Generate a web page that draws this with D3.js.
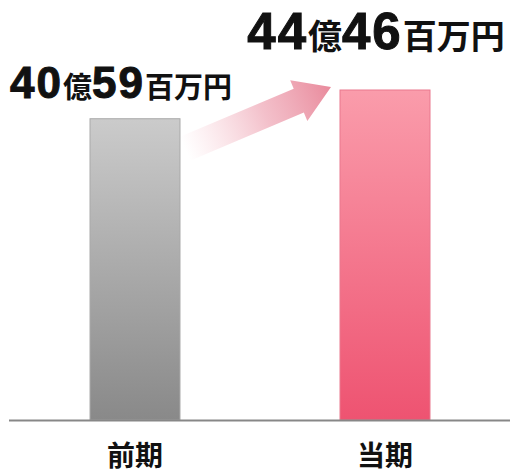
<!DOCTYPE html>
<html>
<head>
<meta charset="utf-8">
<script src="https://cdn.jsdelivr.net/npm/d3@7"></script>
<style>
  html, body { margin: 0; padding: 0; background: #fff; }
  svg { display: block; }
</style>
</head>
<body>
<script>
// values in 百万円
var periods = ['前期', '当期']
var values = [4059, 4446]
var valueOku = ['40', '44']
var valueMan = ['59', '46']

var width = 510
var height = 474
var baseY = 420

var svg = d3.select('body').append('svg')
    .attr('width', width)
    .attr('height', height)

var defs = svg.append('defs')

var x = d3.scaleBand()
    .domain(periods)
    .range([10, 510])
    .paddingInner(0.64)
    .paddingOuter(0.32)

var y = d3.scaleLinear()
    .domain([0, 4446])
    .range([baseY, 90])

var grads = [
    { id: 'gGray', top: '#cbcbcb', bottom: '#898989', stroke: '#a9a9a9' },
    { id: 'gPink', top: '#fa9cab', bottom: '#ee5371', stroke: '#e9788e' }
]

grads.forEach(function(g) {
    var lg = defs.append('linearGradient')
        .attr('id', g.id)
        .attr('x1', 0).attr('y1', 0)
        .attr('x2', 0).attr('y2', 1)
    lg.append('stop').attr('offset', '0%').attr('stop-color', g.top)
    lg.append('stop').attr('offset', '100%').attr('stop-color', g.bottom)
})

// bars
svg.selectAll('rect.bar')
    .data(periods)
    .enter().append('rect')
    .attr('class', 'bar')
    .attr('x', (d) => x(d))
    .attr('y', (d, i) => y(values[i]))
    .attr('width', x.bandwidth())
    .attr('height', (d, i) => baseY - y(values[i]))
    .attr('fill', (d, i) => 'url(#' + grads[i].id + ')')
    .attr('stroke', (d, i) => grads[i].stroke)
    .attr('stroke-width', 1)

// baseline
svg.append('line')
    .attr('x1', 9).attr('x2', width)
    .attr('y1', baseY + 0.5).attr('y2', baseY + 0.5)
    .attr('stroke', '#878787')
    .attr('stroke-width', 2)

// arrow between bars
var start = [x(periods[0]) + x.bandwidth() + 5, y(values[0]) + 30]
var end = [x(periods[1]) - 9, y(values[1]) - 3]
var dx = end[0] - start[0]
var dy = end[1] - start[1]
var len = Math.sqrt(dx * dx + dy * dy)
var ang = Math.atan2(dy, dx) * 180 / Math.PI
var shaft = 13, wing = 22, headLen = 35

var ag = defs.append('linearGradient')
    .attr('id', 'gArrow')
    .attr('gradientUnits', 'userSpaceOnUse')
    .attr('x1', 0).attr('y1', 0)
    .attr('x2', len).attr('y2', 0)
ag.append('stop').attr('offset', '0%').attr('stop-color', '#f6c4cd').attr('stop-opacity', 0)
ag.append('stop').attr('offset', '55%').attr('stop-color', '#f0b0bd').attr('stop-opacity', 0.8)
ag.append('stop').attr('offset', '100%').attr('stop-color', '#e98a9c').attr('stop-opacity', 1)

var arrowPts = [
    [0, -shaft], [len - headLen, -shaft], [len - headLen, -wing],
    [len, 0],
    [len - headLen, wing], [len - headLen, shaft], [0, shaft]
]

svg.append('path')
    .attr('d', d3.line()(arrowPts) + 'Z')
    .attr('transform', 'translate(' + start[0] + ',' + start[1] + ') rotate(' + ang + ')')
    .attr('fill', 'url(#gArrow)')

// value labels (the current-period figure is set larger)
var labelStyle = [
    { num: 44, jp: 29, offset: 21, shift: -14 },
    { num: 51, jp: 34, offset: 41, shift: -9 }
]
var numFont = "'Liberation Sans', Arial, sans-serif"
var jpFont = "'Noto Sans CJK JP', sans-serif"

periods.forEach(function(p, i) {
    var s = labelStyle[i]
    var t = svg.append('text')
        .attr('x', x(p) + x.bandwidth() / 2 + s.shift)
        .attr('y', y(values[i]) - s.offset)
        .attr('text-anchor', 'middle')
        .attr('font-weight', 'bold')
        .attr('fill', '#111')
    t.append('tspan').attr('font-family', numFont).attr('font-size', s.num)
        .attr('letter-spacing', 2)
        .attr('stroke', '#111').attr('stroke-width', 1).text(valueOku[i])
    t.append('tspan').attr('font-family', jpFont).attr('font-size', s.jp).text('億')
    t.append('tspan').attr('font-family', numFont).attr('font-size', s.num)
        .attr('letter-spacing', 2)
        .attr('stroke', '#111').attr('stroke-width', 1).text(valueMan[i])
    t.append('tspan').attr('font-family', jpFont).attr('font-size', s.jp).text('百万円')
})

// category labels
svg.selectAll('text.cat')
    .data(periods)
    .enter().append('text')
    .attr('class', 'cat')
    .attr('x', (d) => x(d) + x.bandwidth() / 2)
    .attr('y', 466)
    .attr('text-anchor', 'middle')
    .attr('font-family', jpFont)
    .attr('font-weight', 'bold')
    .attr('font-size', 28)
    .attr('fill', '#111')
    .text((d) => d)
</script>
</body>
</html>
